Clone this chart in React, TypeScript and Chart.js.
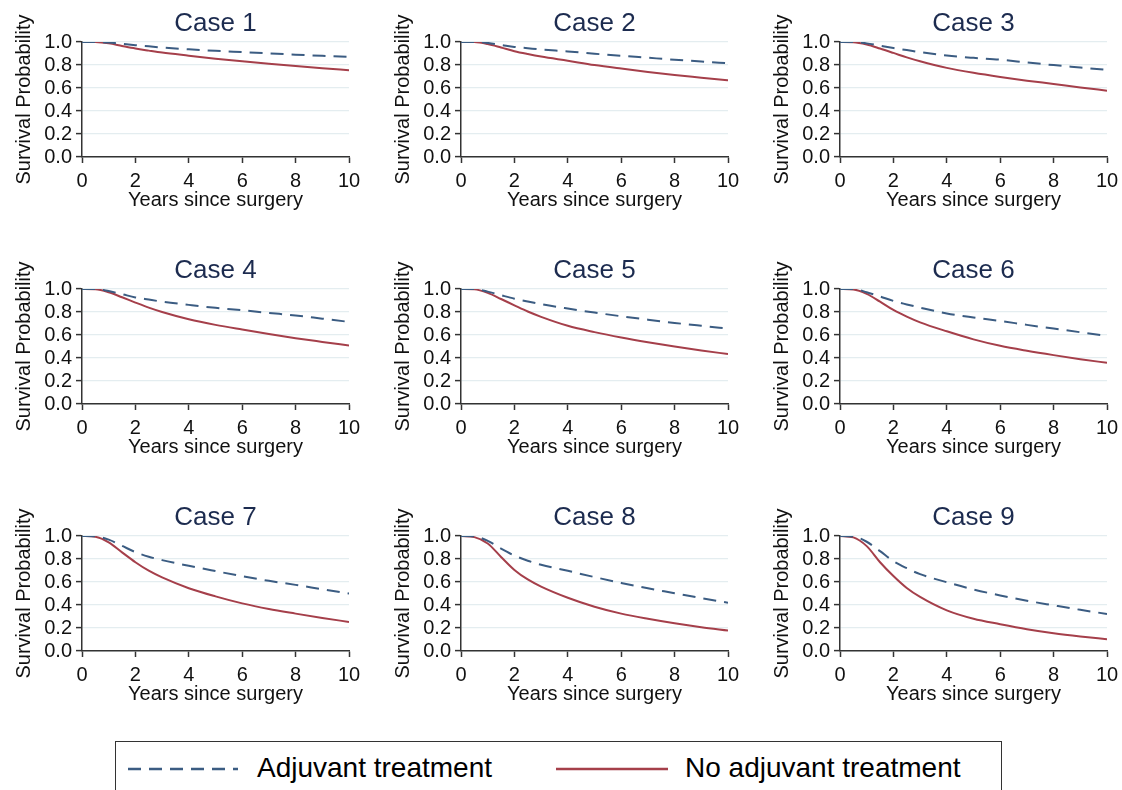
import React, { useEffect, useRef } from 'react';
import { Chart, registerables } from 'chart.js';

Chart.register(...registerables);

// ---------- data ----------
const YEARS = [0, 0.5, 1, 1.5, 2, 2.5, 3, 4, 5, 6, 7, 8, 9, 10];
const X_TICKS = [0, 2, 4, 6, 8, 10];
const Y_TICKS = [0, 0.2, 0.4, 0.6, 0.8, 1.0];
const CASE_TITLES = ['Case 1', 'Case 2', 'Case 3', 'Case 4', 'Case 5', 'Case 6', 'Case 7', 'Case 8', 'Case 9'];
const SERIES_LABELS = ['Adjuvant treatment', 'No adjuvant treatment'];
const X_TITLE = 'Years since surgery';
const Y_TITLE = 'Survival Probability';

const CASE1_ADJ = [1, 1, 0.996, 0.984, 0.972, 0.962, 0.952, 0.936, 0.923, 0.912, 0.901, 0.890, 0.880, 0.870];
const CASE1_NO = [1, 0.999, 0.988, 0.965, 0.943, 0.925, 0.908, 0.881, 0.855, 0.832, 0.811, 0.791, 0.772, 0.754];
const CASE2_ADJ = [1, 1, 0.992, 0.975, 0.957, 0.946, 0.935, 0.918, 0.898, 0.880, 0.863, 0.846, 0.830, 0.815];
const CASE2_NO = [1, 0.999, 0.982, 0.952, 0.920, 0.895, 0.873, 0.837, 0.800, 0.769, 0.740, 0.713, 0.690, 0.667];
const CASE3_ADJ = [1, 1, 0.988, 0.968, 0.948, 0.930, 0.912, 0.882, 0.862, 0.846, 0.822, 0.799, 0.778, 0.757];
const CASE3_NO = [1, 0.998, 0.978, 0.943, 0.905, 0.866, 0.832, 0.775, 0.732, 0.696, 0.664, 0.635, 0.605, 0.577];
const CASE4_ADJ = [1, 1, 0.982, 0.955, 0.927, 0.908, 0.890, 0.862, 0.836, 0.815, 0.792, 0.770, 0.742, 0.714];
const CASE4_NO = [1, 0.998, 0.972, 0.928, 0.882, 0.838, 0.800, 0.737, 0.688, 0.647, 0.608, 0.572, 0.540, 0.509];
const CASE5_ADJ = [1, 1, 0.977, 0.946, 0.916, 0.891, 0.868, 0.830, 0.795, 0.763, 0.733, 0.705, 0.680, 0.656];
const CASE5_NO = [1, 0.997, 0.966, 0.913, 0.858, 0.804, 0.758, 0.680, 0.625, 0.578, 0.537, 0.500, 0.466, 0.434];
const CASE6_ADJ = [1, 1, 0.972, 0.935, 0.896, 0.866, 0.838, 0.787, 0.752, 0.722, 0.688, 0.656, 0.624, 0.592];
const CASE6_NO = [1, 0.996, 0.958, 0.890, 0.818, 0.760, 0.710, 0.632, 0.562, 0.506, 0.463, 0.425, 0.390, 0.358];
const CASE7_ADJ = [1, 0.998, 0.968, 0.914, 0.860, 0.820, 0.790, 0.741, 0.695, 0.650, 0.610, 0.575, 0.537, 0.500];
const CASE7_NO = [1, 0.993, 0.945, 0.858, 0.772, 0.698, 0.640, 0.546, 0.475, 0.414, 0.365, 0.325, 0.287, 0.253];
const CASE8_ADJ = [1, 0.997, 0.958, 0.890, 0.830, 0.785, 0.750, 0.697, 0.643, 0.592, 0.545, 0.503, 0.460, 0.420];
const CASE8_NO = [1, 0.990, 0.935, 0.818, 0.705, 0.622, 0.560, 0.463, 0.385, 0.325, 0.280, 0.241, 0.207, 0.178];
const CASE9_ADJ = [1, 0.996, 0.950, 0.868, 0.782, 0.720, 0.668, 0.598, 0.535, 0.483, 0.437, 0.397, 0.358, 0.322];
const CASE9_NO = [1, 0.988, 0.912, 0.772, 0.652, 0.548, 0.470, 0.353, 0.280, 0.233, 0.190, 0.155, 0.127, 0.103];

const ADJ_SERIES = [CASE1_ADJ, CASE2_ADJ, CASE3_ADJ, CASE4_ADJ, CASE5_ADJ, CASE6_ADJ, CASE7_ADJ, CASE8_ADJ, CASE9_ADJ];
const NO_SERIES = [CASE1_NO, CASE2_NO, CASE3_NO, CASE4_NO, CASE5_NO, CASE6_NO, CASE7_NO, CASE8_NO, CASE9_NO];

// ---------- style ----------
const FONT = "'Liberation Sans', Arial, Helvetica, sans-serif";
const BLUE = '#3b5c82';
const RED = '#a53f4a';
const AXIS = '#333333';
const GRID = '#e4edf0';
const TITLE_COLOR = '#1c2b4f';

const CANVAS_W = 370;
const CANVAS_H = 210;
const COL_LEFT = [0, 379, 758];
const ROW_TOP = [0, 247, 494];

function Panel({ idx }: { idx: number }) {
  const ref = useRef<HTMLCanvasElement | null>(null);
  useEffect(() => {
    if (!ref.current) return;
    const toPts = (ys: number[]) => YEARS.map((x, i) => ({ x, y: ys[i] }));
    const chart = new Chart(ref.current, {
      type: 'line',
      data: {
        datasets: [
          {
            label: SERIES_LABELS[0],
            data: toPts(ADJ_SERIES[idx]),
            borderColor: BLUE,
            borderWidth: 2,
            borderDash: [13, 8],
            pointRadius: 0,
            fill: false,
            cubicInterpolationMode: 'monotone',
          },
          {
            label: SERIES_LABELS[1],
            data: toPts(NO_SERIES[idx]),
            borderColor: RED,
            borderWidth: 2,
            pointRadius: 0,
            fill: false,
            cubicInterpolationMode: 'monotone',
          },
        ],
      },
      options: {
        animation: false,
        responsive: false,
        maintainAspectRatio: false,
        events: [],
        layout: { padding: { left: 0, right: 21, top: 0, bottom: 0 } },
        plugins: {
          legend: { display: false },
          tooltip: { enabled: false },
          title: {
            display: true,
            text: CASE_TITLES[idx],
            color: TITLE_COLOR,
            fullSize: false,
            font: { family: FONT, size: 26, weight: 'normal', lineHeight: 1.2 },
            padding: { top: 8, bottom: 2.8 },
          },
        },
        scales: {
          x: {
            type: 'linear',
            min: 0,
            max: 10,
            afterBuildTicks: (s: any) => {
              s.ticks = X_TICKS.map((v) => ({ value: v }));
            },
            afterFit: (s: any) => {
              s.height = 53;
            },
            ticks: {
              color: '#111',
              padding: 8,
              autoSkip: false,
              font: { family: FONT, size: 20, lineHeight: 1 },
              maxRotation: 0,
              callback: (v: any) => String(v),
            },
            grid: {
              drawOnChartArea: false,
              drawTicks: true,
              tickLength: 6,
              tickColor: AXIS,
              tickWidth: 1.5,
            },
            border: { display: true, color: AXIS, width: 1.5 },
            title: {
              display: true,
              text: X_TITLE,
              color: '#111',
              font: { family: FONT, size: 20, lineHeight: 1 },
              padding: { top: 0, bottom: 0 },
            },
          },
          y: {
            type: 'linear',
            min: 0,
            max: 1,
            afterBuildTicks: (s: any) => {
              s.ticks = Y_TICKS.map((v) => ({ value: v }));
            },
            afterFit: (s: any) => {
              s.width = 82;
            },
            ticks: {
              color: '#111',
              padding: 4,
              autoSkip: false,
              font: { family: FONT, size: 20, lineHeight: 1 },
              callback: (v: any) => Number(v).toFixed(1),
            },
            grid: {
              color: GRID,
              lineWidth: 1.2,
              drawTicks: true,
              tickLength: 6,
              tickColor: AXIS,
              tickWidth: 1.5,
            },
            border: { display: true, color: AXIS, width: 1.5 },
            title: {
              display: true,
              text: Y_TITLE,
              color: '#111',
              font: { family: FONT, size: 20, lineHeight: 1.2 },
              padding: { top: 12, bottom: 0 },
            },
          },
        },
      },
    } as any);
    return () => chart.destroy();
  }, [idx]);

  const col = idx % 3;
  const row = Math.floor(idx / 3);
  return (
    <canvas
      ref={ref}
      width={CANVAS_W}
      height={CANVAS_H}
      style={{
        position: 'absolute',
        left: COL_LEFT[col],
        top: ROW_TOP[row],
        width: CANVAS_W,
        height: CANVAS_H,
      }}
    />
  );
}

function Legend() {
  const textStyle: React.CSSProperties = {
    position: 'absolute',
    top: 754,
    fontFamily: FONT,
    fontSize: 28,
    lineHeight: '28px',
    color: '#000',
    whiteSpace: 'nowrap',
  };
  return (
    <>
      <div
        style={{
          position: 'absolute',
          left: 115,
          top: 741,
          width: 887,
          height: 80,
          border: `1.5px solid ${AXIS}`,
          boxSizing: 'border-box',
        }}
      />
      <svg style={{ position: 'absolute', left: 128, top: 764, overflow: 'visible' }} width={110} height={10}>
        <line x1={0} y1={5} x2={110} y2={5} stroke={BLUE} strokeWidth={2.5} strokeDasharray="13 8" />
      </svg>
      <div style={{ ...textStyle, left: 257 }}>{SERIES_LABELS[0]}</div>
      <svg style={{ position: 'absolute', left: 556, top: 764, overflow: 'visible' }} width={112} height={10}>
        <line x1={0} y1={5} x2={112} y2={5} stroke={RED} strokeWidth={2.5} />
      </svg>
      <div style={{ ...textStyle, left: 685 }}>{SERIES_LABELS[1]}</div>
    </>
  );
}

export default function App() {
  return (
    <div
      style={{
        position: 'absolute',
        left: 0,
        top: 0,
        width: 1122,
        height: 790,
        overflow: 'hidden',
        background: '#fff',
      }}
    >
      {CASE_TITLES.map((_, i) => (
        <Panel key={i} idx={i} />
      ))}
      <Legend />
    </div>
  );
}
